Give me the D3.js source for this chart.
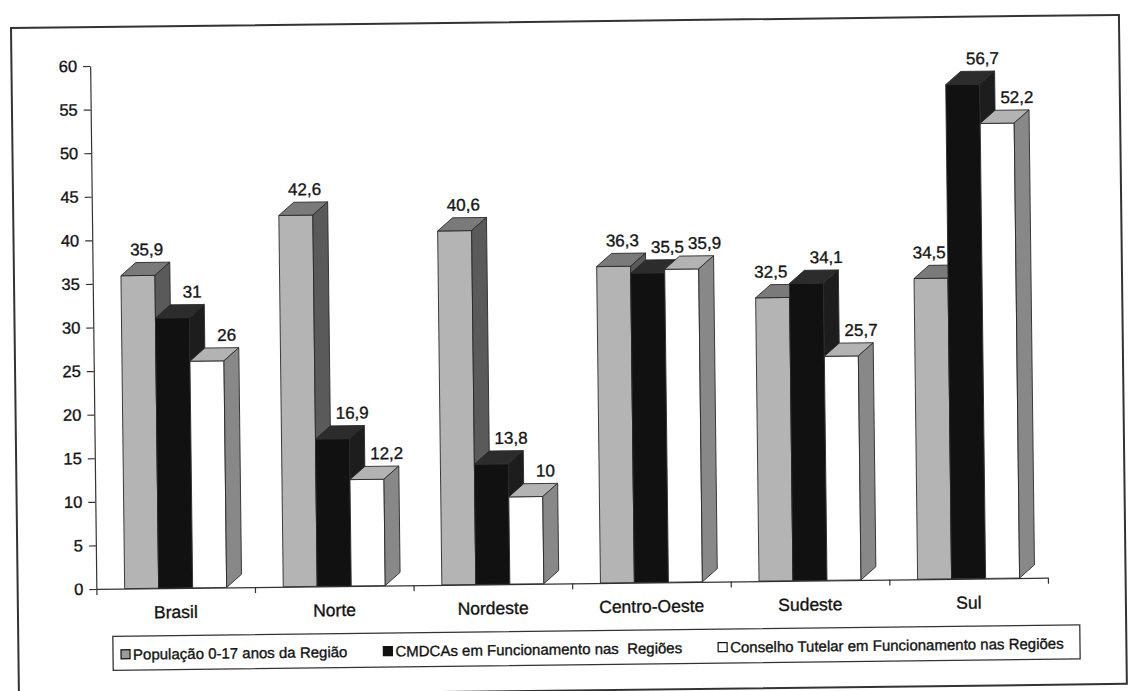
<!DOCTYPE html>
<html>
<head>
<meta charset="utf-8">
<script src="https://cdn.jsdelivr.net/npm/d3@7"></script>
<style>
  html, body { margin: 0; padding: 0; background: #ffffff; }
  svg { display: block; font-family: "Liberation Sans", Arial, Helvetica, sans-serif; }
  text { stroke: #151515; stroke-width: 0.35px; }
</style>
</head>
<body>
<svg id="chart" width="1130" height="691"></svg>
<script>
// ---- data ----
const regions = ["Brasil", "Norte", "Nordeste", "Centro-Oeste", "Sudeste", "Sul"];
const populacao = [35.9, 42.6, 40.6, 36.3, 32.5, 34.5];
const cmdcas = [31, 16.9, 13.8, 35.5, 34.1, 56.7];
const conselho = [26, 12.2, 10, 35.9, 25.7, 52.2];
const seriesNames = [
  "População 0-17 anos da Região",
  "CMDCAs em Funcionamento nas  Regiões",
  "Conselho Tutelar em Funcionamento nas Regiões"
];
const yTicks = [0, 5, 10, 15, 20, 25, 30, 35, 40, 45, 50, 55, 60];

// ---- look ----
const faces = [
  { front: "#b4b4b4", top: "#7a7a7a", side: "#5a5a5a", icon: "#9c9c9c", labelShift: 9 },
  { front: "#111111", top: "#2c2c2c", side: "#1d1d1d", icon: "#111111", labelShift: 20 },
  { front: "#ffffff", top: "#b3b3b3", side: "#888888", icon: "#ffffff", labelShift: 20 }
];
const edge = "#2a2a2a";
const depthX = 15, depthY = -13;   // oblique projection of bar depth
const barW = 34;

const series = [populacao, cmdcas, conselho];
const svg = d3.select("#chart");

// whole sheet is slightly tilted, as on the printed page
const root = svg.append("g").attr("transform", "rotate(-0.68,565,345)");

// outer frame
root.append("rect")
  .attr("x", 14.8).attr("y", 21.5).attr("width", 1108).attr("height", 669)
  .attr("fill", "none").attr("stroke", "#333").attr("stroke-width", 2);

// ---- scales ----
const plotLeft = 93.5, plotRight = 1045.1, plotTop = 60.4, plotBottom = 583.4;
const x = d3.scaleBand().domain(regions).range([plotLeft, plotRight]).padding(0);
const xs = d3.scaleBand().domain(d3.range(series.length)).range([0, barW * series.length]);
const y = d3.scaleLinear().domain([0, 60]).range([plotBottom, plotTop]);
const groupOffset = (x.bandwidth() - barW * series.length) / 2;

// ---- y axis ----
const yAxis = root.append("g")
  .attr("transform", `translate(${plotLeft},0)`)
  .call(d3.axisLeft(y).tickValues(yTicks).tickSize(7).tickSizeOuter(0).tickPadding(6));
yAxis.select(".domain").attr("stroke", "#333").attr("stroke-width", 1.2);
yAxis.selectAll(".tick line").attr("stroke", "#333").attr("stroke-width", 1.2);
yAxis.selectAll(".tick text")
  .attr("fill", "#111").style("font-size", "16.5px")
  .attr("font-family", "'Liberation Sans', Arial, sans-serif");

// ---- x axis: boundary ticks + category names ----
const xb = d3.scaleLinear().domain([0, regions.length]).range([plotLeft, plotRight]);
const xAxis = root.append("g")
  .attr("transform", `translate(0,${plotBottom})`)
  .call(d3.axisBottom(xb).tickValues(d3.range(regions.length + 1)).tickFormat("").tickSize(6).tickSizeOuter(0));
xAxis.select(".domain").attr("stroke", "#333").attr("stroke-width", 1.2);
xAxis.selectAll(".tick line").attr("stroke", "#333").attr("stroke-width", 1.2);

root.append("g").selectAll("text")
  .data(regions)
  .join("text")
  .attr("x", d => x(d) + x.bandwidth() / 2)
  .attr("y", plotBottom + 30)
  .attr("text-anchor", "middle")
  .attr("fill", "#111")
  .style("font-size", "17.5px")
  .text(d => d);

// ---- 3D bars ----
const barLeft = (i, j) => x(regions[i]) + groupOffset + xs(j);
const bars = root.append("g");
regions.forEach((r, i) => {
  series.forEach((vals, j) => {
    const v = vals[i];
    const x0 = barLeft(i, j);
    const x1 = x0 + barW;
    const yt = y(v), yb = y(0);
    const f = faces[j];
    const g = bars.append("g");
    // front face
    g.append("rect")
      .attr("x", x0).attr("y", yt).attr("width", barW).attr("height", yb - yt)
      .attr("fill", f.front).attr("stroke", edge).attr("stroke-width", 0.9);
    // top face
    g.append("path")
      .attr("d", `M${x0},${yt}L${x0 + depthX},${yt + depthY}L${x1 + depthX},${yt + depthY}L${x1},${yt}Z`)
      .attr("fill", f.top).attr("stroke", edge).attr("stroke-width", 0.9);
    // right side face
    g.append("path")
      .attr("d", `M${x1},${yt}L${x1 + depthX},${yt + depthY}L${x1 + depthX},${yb + depthY}L${x1},${yb}Z`)
      .attr("fill", f.side).attr("stroke", edge).attr("stroke-width", 0.9);
  });
});

// ---- value labels ----
// a label that would run into a taller neighbouring bar is pulled back to its left;
// labels of similar height inside a group are kept apart
const fmt = v => String(v).replace(".", ",");
const labels = root.append("g");
regions.forEach((r, i) => {
  let prev = null;
  series.forEach((vals, j) => {
    const v = vals[i];
    const baseY = y(v) + depthY - 7;
    const t = labels.append("text")
      .attr("y", baseY)
      .attr("fill", "#151515")
      .style("font-size", "17px")
      .text(fmt(v));
    const w = t.node().getComputedTextLength();
    let cx = barLeft(i, j) + barW / 2 + faces[j].labelShift;
    if (j + 1 < series.length) {
      const nextTop = y(series[j + 1][i]) + depthY;
      const nextLeft = barLeft(i, j + 1);
      if (nextTop < baseY && cx + w / 2 > nextLeft - 2) cx = nextLeft - 2 - w / 2;
    }
    if (prev && Math.abs(prev.y - baseY) < 14 && cx - w / 2 < prev.right + 4) {
      cx = prev.right + 4 + w / 2;
    }
    t.attr("x", cx - w / 2);
    prev = { right: cx + w / 2, y: baseY };
  });
});

// ---- legend ----
const legTop = 631, legBottom = 665;
const legend = root.append("g");
legend.append("rect")
  .attr("x", 109.4).attr("y", legTop).attr("width", 967).attr("height", legBottom - legTop)
  .attr("fill", "#fff").attr("stroke", "#333").attr("stroke-width", 1.3);

let lx = 117.4;
const textY = 654.5;
seriesNames.forEach((name, j) => {
  legend.append("rect")
    .attr("x", lx).attr("y", textY - 10).attr("width", 9).attr("height", 9)
    .attr("fill", faces[j].icon).attr("stroke", "#111").attr("stroke-width", 1.2);
  const t = legend.append("text")
    .attr("x", lx + 12).attr("y", textY)
    .attr("fill", "#111")
    .style("font-size", "15px")
    .style("white-space", "pre")
    .text(name);
  lx += 12 + t.node().getComputedTextLength() + 36;
});
</script>
</body>
</html>
